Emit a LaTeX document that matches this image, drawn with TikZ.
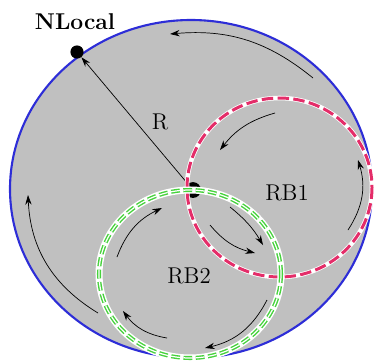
\documentclass[tikz,border=0pt]{standalone}
\usepackage{tikz}
\usetikzlibrary{arrows.meta, positioning}

\definecolor{areagray}{RGB}{192,192,192}
\definecolor{rangeblue}{RGB}{45,45,215}
\definecolor{rbred}{RGB}{228,45,105}
\definecolor{rbgreen}{RGB}{70,210,60}

\begin{document}
\begin{tikzpicture}[
    x=0.02cm, y=-0.02cm,
    >={Stealth[length=5.5pt, width=3.6pt]},
    font=\fontsize{13}{15}\selectfont,
    dot/.style={circle, fill=black, inner sep=0pt, minimum size=#1},
    tag/.style={inner sep=1pt},
    localarea/.style={draw=rangeblue, line width=1.2pt, fill=areagray},
    halo/.style={draw=white, line width=#1},
    redring/.style={draw=rbred, line width=1.7pt, dash pattern=on 6.5pt off 2.5pt},
    greenring/.style={draw=rbgreen, line width=0.8pt, double=white, double distance=0.7pt,
        dash pattern=on 5pt off 2pt},
    flow/.style={draw, thin, ->}
]

\useasboundingbox (0,0) rectangle (374,362);

% ==========================================
% LOCAL AREA
% ==========================================

\path[localarea] (191,189) ellipse [x radius=181, y radius=169];

\node[dot=7.5pt] (NLocal) at (77,52) {};
\node[tag, font=\fontsize{13}{15}\selectfont\bfseries] (NLocalText) at (75,22) {NLocal};
\node[dot=9pt] (Centre) at (193,190) {};

\draw[thin, ->] (Centre) -- (NLocal);
\node[tag] (RText) at (160,122) {R};

% ==========================================
% RB1 / RB2
% ==========================================

\draw[halo=2.6pt] (279.5,187.5) ellipse [x radius=92.5, y radius=89.5];
\draw[redring] (279.5,187.5) ellipse [x radius=92.5, y radius=89.5];

\draw[halo=4pt] (190,274) ellipse [x radius=91, y radius=84];
\draw[greenring] (190,274) ellipse [x radius=91, y radius=84];

\node[tag] (RB1) at (287,193) {RB1};
\node[tag] (RB2) at (189,276) {RB2};

% ==========================================
% FLOW ARROWS
% ==========================================

\coordinate (TopA) at (313,78);   \coordinate (TopB) at (170,34);
\coordinate (LeftA) at (98,313);  \coordinate (LeftB) at (28,195);
\coordinate (BotA) at (267,300);  \coordinate (BotB) at (205,348);
\coordinate (GlA) at (167,338);   \coordinate (GlB) at (123,311);
\coordinate (GuA) at (117,257);   \coordinate (GuB) at (162,208);
\coordinate (GrA) at (230,207);   \coordinate (GrB) at (263,245);
\coordinate (RlA) at (210,225);   \coordinate (RlB) at (255,253);
\coordinate (RtA) at (275,113);   \coordinate (RtB) at (220,150);
\coordinate (RrA) at (348,230);   \coordinate (RrB) at (358,160);

\draw[flow] (TopA) to[bend right=22] (TopB);
\draw[flow] (LeftA) to[bend left=28] (LeftB);
\draw[flow] (BotA) to[bend left=25] (BotB);
\draw[flow] (GlA) to[bend left=22] (GlB);
\draw[flow] (GuA) to[bend left=22] (GuB);
\draw[flow] (GrA) to[bend left=10] (GrB);
\draw[flow] (RlA) to[bend right=18] (RlB);
\draw[flow] (RtA) to[bend right=18] (RtB);
\draw[flow] (RrA) to[bend right=25] (RrB);

\end{tikzpicture}
\end{document}
